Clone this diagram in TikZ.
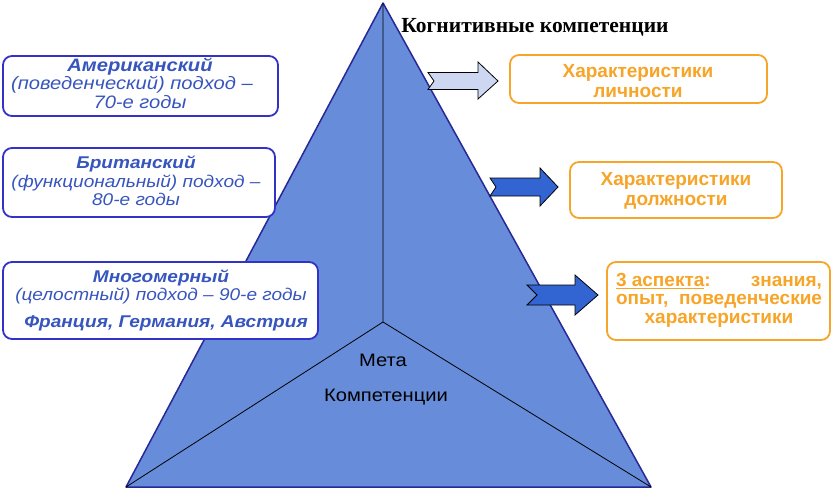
\documentclass[tikz,border=0pt]{standalone}
\usepackage{fontspec}
\setmainfont[Ligatures=TeX]{Liberation Serif}
\newfontfamily\arw[FakeStretch=1.12,Ligatures=TeX]{Liberation Sans}
\newfontfamily\ar[Ligatures=TeX]{Liberation Sans}
\definecolor{tri}{RGB}{102,140,218}
\definecolor{triline}{RGB}{40,40,150}
\definecolor{bluetxt}{RGB}{55,85,190}
\definecolor{bluebox}{RGB}{50,50,200}
\definecolor{orng}{RGB}{247,165,40}
\definecolor{arrowdark}{RGB}{50,100,210}
\definecolor{arrowlight}{RGB}{205,215,242}
\tikzset{
  bbox/.style={draw=bluebox, line width=1.8pt, rounded corners=9pt, fill=white, inner sep=0pt},
  obox/.style={draw=orng, line width=1.8pt, rounded corners=9pt, fill=white, inner sep=0pt},
  btext/.style={text=bluetxt, align=center, inner sep=0pt, font=\arw\itshape\fontsize{17}{18.5}\selectfont},
  otext/.style={text=orng, align=center, inner sep=0pt, font=\ar\bfseries\fontsize{19}{19.5}\selectfont},
  blockarrow/.style={draw=black, line width=0.8pt},
}
\begin{document}
\begin{tikzpicture}[x=1pt,y=-1pt]
\useasboundingbox (0,0) rectangle (832,493);
% pyramid
\coordinate (A) at (383,3);
\coordinate (L) at (126,487);
\coordinate (R) at (651,487);
\coordinate (C) at (383,322);
\filldraw[fill=tri, draw=triline, line width=1.5pt, line join=round] (A)--(L)--(R)--cycle;
\draw[line width=0.8pt] (A)--(C) (C)--(L) (C)--(R);
\node[font=\arw\fontsize{18}{20}\selectfont, inner sep=0pt] (meta) at (383,360) {Мета};
\node[font=\arw\fontsize{18}{20}\selectfont, inner sep=0pt] (komp) at (386,397) {Компетенции};
% title
\node[font=\bfseries\fontsize{21.5}{22}\selectfont, inner sep=0pt] (title) at (535,27) {Когнитивные компетенции};
% left boxes
\node[bbox, minimum width=275pt, minimum height=60pt] (b1) at (140.5,86) {};
\node[btext, font=\arw\itshape\fontsize{18}{18.5}\selectfont] (t1) at (140,83) {{\bfseries Американский}\\(поведенческий) подход –\hbox to 16pt{}\\70-е годы};
\node[bbox, minimum width=272pt, minimum height=69pt] (b2) at (139,182.5) {};
\node[btext] (t2) at (136,181) {{\bfseries Британский}\\(функциональный) подход –\\80-е годы};
\node[bbox, minimum width=315pt, minimum height=77pt] (b3) at (160.5,300.5) {};
\node[btext] (t3) at (161,287) {{\bfseries Многомерный}\\(целостный) подход – 90-е годы};
\node[btext, font=\arw\bfseries\itshape\fontsize{17}{18.5}\selectfont] (t3b) at (166,323) {Франция, Германия, Австрия};
% right boxes
\node[obox, minimum width=257pt, minimum height=48pt] (o1) at (638.5,79) {};
\node[otext] (u1) at (638,81) {Характеристики\\личности};
\node[obox, minimum width=212pt, minimum height=56pt] (o2) at (676,190) {};
\node[otext] (u2) at (676,191) {Характеристики\\должности};
\node[obox, minimum width=223pt, minimum height=78pt] (o3) at (718.5,301) {};
\node[otext, text width=206pt, align=justify] (u3) at (719,300) {\underline{3 аспекта}:\hfill знания,\\[-1pt]
опыт,\hfill поведенческие\\[-1pt]\centering характеристики\par};
% block arrows
\draw[blockarrow, fill=arrowlight] (428,72.5)--(478,72.5)--(478,62)--(498,81)--(478,99)--(478,89.5)--(428,89.5)--(434,81)--cycle;
\draw[blockarrow, fill=arrowdark] (490,178)--(540,178)--(540,168)--(558,187)--(540,206)--(540,196)--(490,196)--(496,187)--cycle;
\draw[blockarrow, fill=arrowdark] (527,285)--(575,285)--(575,275)--(598,295)--(575,315)--(575,305)--(527,305)--(537,295)--cycle;
\end{tikzpicture}
\end{document}
